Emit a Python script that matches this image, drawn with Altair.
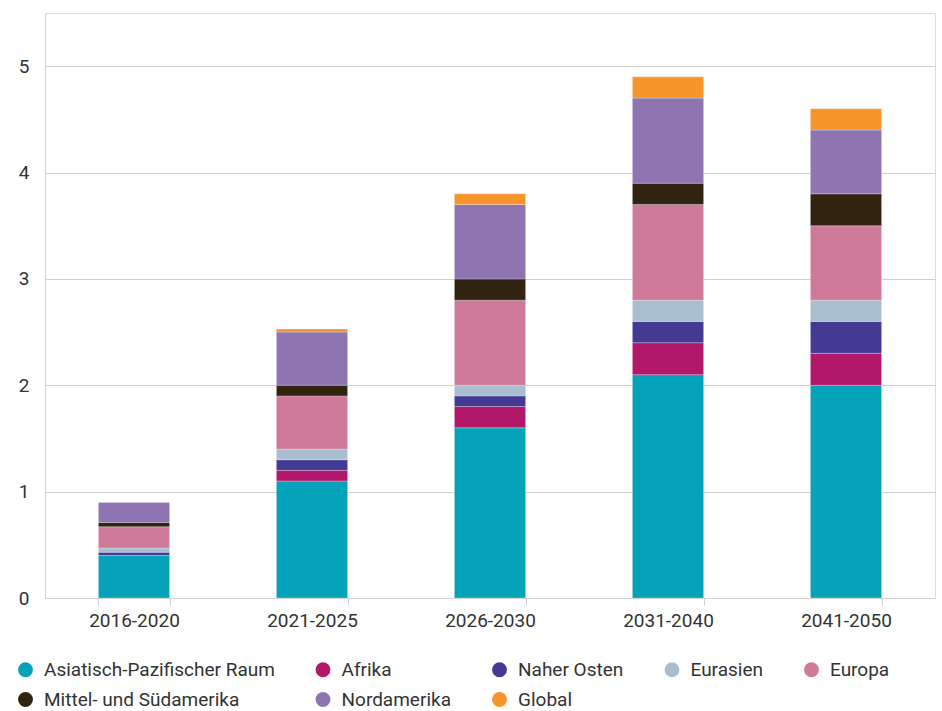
import altair as alt
import pandas as pd

periods = ["2016-2020", "2021-2025", "2026-2030", "2031-2040", "2041-2050"]
regions = [
    "Asiatisch-Pazifischer Raum", "Afrika", "Naher Osten", "Eurasien",
    "Europa", "Mittel- und Südamerika", "Nordamerika", "Global",
]
colors = ["#05a3b9", "#b1186a", "#443a94", "#a9bfcf",
          "#d07a9b", "#302410", "#8e75b1", "#f7952b"]

asia = [0.4, 1.1, 1.6, 2.1, 2.0]
afrika = [0.0, 0.1, 0.2, 0.3, 0.3]
naher_osten = [0.03, 0.1, 0.1, 0.2, 0.3]
eurasien = [0.04, 0.1, 0.1, 0.2, 0.2]
europa = [0.2, 0.5, 0.8, 0.9, 0.7]
mittel_sued = [0.04, 0.1, 0.2, 0.2, 0.3]
nordamerika = [0.19, 0.5, 0.7, 0.8, 0.6]
global_ = [0.0, 0.03, 0.1, 0.2, 0.2]

series = [asia, afrika, naher_osten, eurasien, europa, mittel_sued, nordamerika, global_]

rows = []
for i, (name, vals) in enumerate(zip(regions, series)):
    for p, v in zip(periods, vals):
        rows.append({"Zeitraum": p, "Region": name, "Wert": v, "idx": i})
df = pd.DataFrame(rows)

font = "Roboto"
text_color = "#333333"
line_color = "#d0d0d0"

chart = alt.Chart(df).mark_bar(
    stroke="white", strokeWidth=0.5, strokeOpacity=0.5
).encode(
    x=alt.X(
        "Zeitraum:N", sort=periods, title=None,
        scale=alt.Scale(paddingInner=0.6, paddingOuter=0.3),
        axis=alt.Axis(
            labelAngle=0, tickBand="extent", tickSize=7, tickColor=line_color,
            domainColor=line_color, labelFontSize=19, labelFont=font,
            labelColor=text_color, labelPadding=6, grid=False,
        ),
    ),
    y=alt.Y(
        "Wert:Q", stack="zero", title=None,
        scale=alt.Scale(domain=[0, 5.5], nice=False),
        axis=alt.Axis(
            values=[0, 1, 2, 3, 4, 5], ticks=False, gridColor=line_color,
            domainColor=line_color, labelFontSize=19, labelFont=font,
            labelColor=text_color, labelPadding=16,
        ),
    ),
    color=alt.Color(
        "Region:N", title=None, sort=regions,
        scale=alt.Scale(domain=regions, range=colors),
        legend=alt.Legend(
            orient="none", direction="horizontal", legendX=-29, legendY=647,
            columns=5, gridAlign="each", columnPadding=38.5, rowPadding=10,
            symbolType="circle", symbolSize=220, symbolStrokeWidth=0,
            labelFontSize=19, labelFont=font, labelColor=text_color,
            labelOffset=9, labelLimit=400,
        ),
    ),
    order=alt.Order("idx:Q", sort="ascending"),
).properties(
    width=890, height=585,
    autosize=alt.AutoSizeParams(type="none"),
    padding={"left": 45, "top": 13, "right": 7, "bottom": 113},
).configure_view(
    stroke=line_color, strokeWidth=1.5,
).configure(
    background="white",
)

chart.save("out.html", embed_options={"renderer": "svg", "actions": False})
